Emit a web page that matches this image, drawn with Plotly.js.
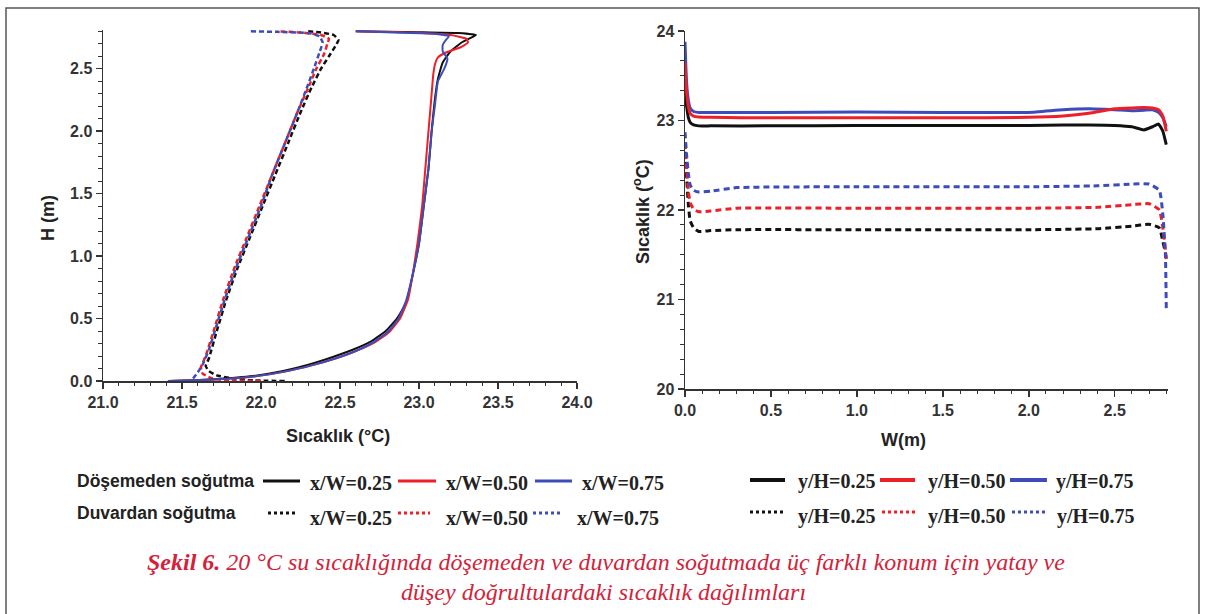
<!DOCTYPE html>
<html>
<head>
<meta charset="utf-8">
<script src="https://cdn.plot.ly/plotly-3.0.1.min.js"></script>
<style>html,body{margin:0;padding:0;background:#fff;}#chart{width:1209px;height:614px;}</style>
</head>
<body>
<div id="chart"></div>
<script>
// ---------- DATA: left chart (Sıcaklık °C vs H m) ----------
// Döşemeden soğutma (floor cooling), solid
const floor025_T = [21.42,21.70,21.95,22.14,22.30,22.45,22.58,22.70,22.79,22.86,22.92,22.96,23.00,23.03,23.06,23.08,23.10,23.12,23.15,23.20,23.27,23.34,23.36,23.25,23.00,22.60];
const floor025_H = [0.00,0.015,0.04,0.08,0.13,0.19,0.25,0.32,0.40,0.50,0.63,0.85,1.10,1.40,1.70,2.00,2.25,2.42,2.55,2.64,2.71,2.755,2.77,2.785,2.792,2.80];
const floor050_T = [21.42,21.70,21.95,22.15,22.32,22.47,22.60,22.72,22.81,22.88,22.93,22.96,22.99,23.02,23.04,23.06,23.08,23.09,23.10,23.12,23.17,23.26,23.31,23.30,23.20,22.95,22.60];
const floor050_H = [0.00,0.012,0.035,0.075,0.125,0.18,0.24,0.31,0.39,0.50,0.65,0.85,1.10,1.40,1.70,2.00,2.30,2.45,2.53,2.59,2.63,2.67,2.71,2.74,2.77,2.79,2.80];
const floor075_T = [21.41,21.70,21.95,22.15,22.32,22.47,22.60,22.71,22.80,22.87,22.92,22.96,23.00,23.03,23.06,23.08,23.10,23.12,23.16,23.18,23.15,23.15,23.17,23.19,23.10,22.85,22.60];
const floor075_H = [0.00,0.012,0.035,0.075,0.125,0.18,0.24,0.31,0.39,0.50,0.65,0.85,1.10,1.40,1.70,2.00,2.20,2.40,2.50,2.58,2.64,2.69,2.73,2.76,2.78,2.79,2.80];
// Duvardan soğutma (wall cooling), dashed
const wall025_T = [22.15,21.95,21.80,21.72,21.67,21.65,21.67,21.72,21.78,21.85,21.93,22.01,22.09,22.17,22.25,22.32,22.38,22.43,22.47,22.49,22.46,22.38,22.29];
const wall025_H = [0.00,0.005,0.025,0.045,0.08,0.12,0.18,0.40,0.65,0.90,1.15,1.40,1.65,1.90,2.15,2.35,2.50,2.60,2.68,2.73,2.77,2.79,2.80];
const wall050_T = [22.00,21.80,21.69,21.63,21.62,21.65,21.70,21.76,21.83,21.91,21.99,22.07,22.15,22.23,22.30,22.35,22.40,22.42,22.43,22.38,22.25,22.10];
const wall050_H = [0.00,0.005,0.02,0.06,0.11,0.20,0.40,0.65,0.90,1.15,1.40,1.65,1.90,2.15,2.35,2.50,2.62,2.70,2.74,2.77,2.79,2.80];
const wall075_T = [21.57,21.60,21.63,21.67,21.72,21.77,21.84,21.92,22.00,22.07,22.15,22.23,22.30,22.34,22.37,22.39,22.37,22.30,22.10,21.93];
const wall075_H = [0.02,0.07,0.13,0.25,0.45,0.65,0.90,1.15,1.40,1.65,1.90,2.15,2.38,2.52,2.63,2.71,2.76,2.785,2.795,2.80];

// ---------- DATA: right chart (W m vs Sıcaklık °C) ----------
const floorW = [0,0.005,0.01,0.02,0.03,0.05,0.08,0.15,0.5,1.0,1.5,2.0,2.2,2.35,2.5,2.6,2.67,2.72,2.755,2.78,2.80];
const floor_y025_T = [23.37,23.25,23.15,23.03,22.98,22.95,22.94,22.94,22.94,22.945,22.945,22.945,22.95,22.95,22.945,22.93,22.895,22.93,22.96,22.88,22.73];
const floor_y050_T = [23.65,23.45,23.30,23.15,23.08,23.05,23.04,23.035,23.03,23.03,23.03,23.035,23.05,23.08,23.13,23.14,23.145,23.14,23.12,23.05,22.88];
const floor_y075_T = [23.88,23.60,23.40,23.22,23.14,23.10,23.09,23.09,23.09,23.095,23.09,23.09,23.12,23.13,23.12,23.11,23.115,23.12,23.09,23.03,22.93];
const wallW = [0,0.01,0.02,0.03,0.05,0.08,0.15,0.3,1.0,2.0,2.4,2.6,2.7,2.76,2.78,2.795,2.80];
const wall_y025_T = [22.65,22.35,22.05,21.88,21.80,21.76,21.77,21.78,21.78,21.78,21.79,21.82,21.84,21.80,21.65,21.52,21.45];
const wall_y050_T = [22.75,22.45,22.20,22.08,22.01,21.98,21.99,22.02,22.02,22.02,22.03,22.06,22.07,22.00,21.80,21.55,21.45];
const wall_y075_T = [22.87,22.60,22.40,22.28,22.22,22.20,22.21,22.25,22.26,22.26,22.27,22.29,22.29,22.22,21.95,21.50,20.90];

// ---------- Labels ----------
const legendLeftRow1 = ["x/W=0.25","x/W=0.50","x/W=0.75"];
const legendRightRow = ["y/H=0.25","y/H=0.50","y/H=0.75"];
const groupLabels = ["Döşemeden soğutma","Duvardan soğutma"];

const BLACK = '#111111', RED = '#ee1f26', BLUE = '#3d4cbb';
const PW = 1209, PH = 614;
const fx = p => p / PW, fy = p => 1 - p / PH;

function tr(x, y, color, width, dash, xa, ya) {
  return {x: x, y: y, type: 'scatter', mode: 'lines', xaxis: xa, yaxis: ya,
    line: {color: color, width: width, dash: dash, shape: 'spline', smoothing: 0.4},
    hoverinfo: 'skip', showlegend: false};
}
const LD = '5px,3px', RD = '6px,4px';
const data = [
  tr(wall025_T, wall025_H, BLACK, 2.5, LD, 'x', 'y'),
  tr(wall050_T, wall050_H, RED, 2.5, LD, 'x', 'y'),
  tr(wall075_T, wall075_H, BLUE, 2.5, LD, 'x', 'y'),
  tr(floor025_T, floor025_H, BLACK, 2, 'solid', 'x', 'y'),
  tr(floor050_T, floor050_H, RED, 2, 'solid', 'x', 'y'),
  tr(floor075_T, floor075_H, BLUE, 2, 'solid', 'x', 'y'),
  tr(floorW, floor_y025_T, BLACK, 3, 'solid', 'x2', 'y2'),
  tr(floorW, floor_y075_T, BLUE, 3, 'solid', 'x2', 'y2'),
  tr(floorW, floor_y050_T, RED, 3, 'solid', 'x2', 'y2'),
  tr(wallW, wall_y025_T, BLACK, 3, RD, 'x2', 'y2'),
  tr(wallW, wall_y050_T, RED, 3, RD, 'x2', 'y2'),
  tr(wallW, wall_y075_T, BLUE, 3, RD, 'x2', 'y2')
];

const tickFont = {family: 'Liberation Sans, Arial, sans-serif', size: 16, color: '#333', weight: 'bold'};
function axis(extra) {
  return Object.assign({
    showline: true, linecolor: '#333', linewidth: 1.5, mirror: false,
    showgrid: false, zeroline: false, ticks: 'outside', ticklen: 6, tickwidth: 1.5, tickcolor: '#333',
    tickfont: tickFont, fixedrange: true
  }, extra);
}

const layout = {
  width: PW, height: PH, margin: {l: 0, r: 0, t: 0, b: 0},
  paper_bgcolor: '#ffffff', plot_bgcolor: '#ffffff', showlegend: false,
  xaxis: axis({domain: [fx(103), fx(577)], range: [21, 24], dtick: 0.5, tick0: 21, tickformat: '.1f', anchor: 'y',
    minor: {dtick: 0.1, ticks: 'outside', ticklen: 3.5, tickwidth: 1, tickcolor: '#333'}}),
  yaxis: axis({domain: [fy(381), fy(30)], range: [0, 2.81], dtick: 0.5, tick0: 0, tickformat: '.1f', anchor: 'x',
    minor: {dtick: 0.1, ticks: 'outside', ticklen: 3.5, tickwidth: 1, tickcolor: '#333'}}),
  xaxis2: axis({domain: [fx(685), fx(1168)], range: [0, 2.81], dtick: 0.5, tick0: 0, tickformat: '.1f', anchor: 'y2',
    minor: {dtick: 0.1, ticks: 'outside', ticklen: 3.5, tickwidth: 1, tickcolor: '#333'}}),
  yaxis2: axis({domain: [fy(389), fy(31)], range: [20, 24], dtick: 1, tick0: 20, tickformat: 'd', anchor: 'x2',
    minor: {dtick: 1/6, ticks: 'outside', ticklen: 3.5, tickwidth: 1, tickcolor: '#333'}}),
  shapes: [], annotations: []
};

// frame
layout.shapes.push({type: 'rect', xref: 'paper', yref: 'paper', x0: fx(6), x1: fx(1199), y0: fy(640), y1: fy(8),
  line: {color: '#555', width: 1.5}, fillcolor: 'rgba(0,0,0,0)', layer: 'below'});

function ann(text, x, y, font, opts) {
  layout.annotations.push(Object.assign({text: text, xref: 'paper', yref: 'paper', x: fx(x), y: fy(y),
    showarrow: false, xanchor: 'center', yanchor: 'middle', font: font}, opts || {}));
}
function seg(x0, x1, y, color, width, dash) {
  layout.shapes.push({type: 'line', xref: 'paper', yref: 'paper', x0: fx(x0), x1: fx(x1), y0: fy(y), y1: fy(y),
    line: {color: color, width: width, dash: dash}});
}

// axis titles
const titleFont = {family: 'Liberation Sans, Arial, sans-serif', size: 18, color: '#222', weight: 'bold'};
ann('H (m)', 48, 218, titleFont, {textangle: -90});
ann('Sıcaklık (°C)', 338, 436, titleFont);
ann('Sıcaklık (<sup>o</sup>C)', 642, 212, titleFont, {textangle: -90});
ann('W(m)', 903, 440, titleFont);

// legends
const gFont = {family: 'Liberation Sans, Arial, sans-serif', size: 17.5, color: '#222', weight: 'bold'};
const lFont = {family: 'Liberation Serif, Times New Roman, serif', size: 20, color: '#222', weight: 'bold'};
ann(groupLabels[0], 75, 481, gFont, {xanchor: 'left'});
ann(groupLabels[1], 75, 513, gFont, {xanchor: 'left'});
const colors = [BLACK, RED, BLUE];
const L1seg = [[263, 300], [398, 436], [535, 572]], L1txt = [308, 444, 580];
const L2seg = [[268, 298], [398, 430], [533, 563]], L2txt = [308, 444, 575];
for (let i = 0; i < 3; i++) {
  seg(L1seg[i][0], L1seg[i][1], 481, colors[i], 3, 'solid');
  ann(legendLeftRow1[i], L1txt[i], 483, lFont, {xanchor: 'left'});
  seg(L2seg[i][0], L2seg[i][1], 513, colors[i], 3, '3px,3px');
  ann(legendLeftRow1[i], L2txt[i], 518, lFont, {xanchor: 'left'});
}
const R1seg = [[750, 785], [880, 915], [1010, 1047]], R1txt = [796, 926, 1054];
const R2seg = [[750, 785], [882, 917], [1012, 1047]], R2txt = [796, 926, 1055];
for (let i = 0; i < 3; i++) {
  seg(R1seg[i][0], R1seg[i][1], 480, colors[i], 4, 'solid');
  ann(legendRightRow[i], R1txt[i], 481, lFont, {xanchor: 'left'});
  seg(R2seg[i][0], R2seg[i][1], 512, colors[i], 3, '3px,3px');
  ann(legendRightRow[i], R2txt[i], 516, lFont, {xanchor: 'left'});
}

// caption
const capFont = {family: 'Liberation Serif, Times New Roman, serif', size: 24, color: '#d3223a'};
ann('<i><b>Şekil 6.</b> 20 °C su sıcaklığında döşemeden ve duvardan soğutmada üç farklı konum için yatay ve</i>', 606, 562, capFont);
ann('<i>düşey doğrultulardaki sıcaklık dağılımları</i>', 603, 592, capFont);

Plotly.newPlot('chart', data, layout, {displayModeBar: false, staticPlot: true});
</script>
</body>
</html>
